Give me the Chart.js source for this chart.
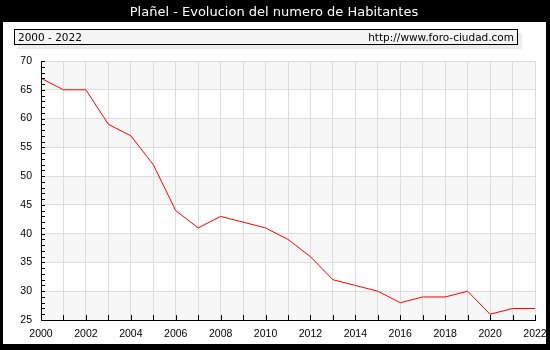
<!DOCTYPE html>
<html>
<head>
<meta charset="utf-8">
<script src="https://cdn.jsdelivr.net/npm/chart.js@4/dist/chart.umd.min.js"></script>
<style>
html,body{margin:0;padding:0;background:#000;}
#wrap{width:550px;height:350px;position:relative;}
canvas{display:block;}
</style>
</head>
<body>
<div id="wrap"><canvas id="c" width="550" height="350"></canvas></div>
<script>
const years = ['2000','2001','2002','2003','2004','2005','2006','2007','2008','2009','2010','2011','2012','2013','2014','2015','2016','2017','2018','2019','2020','2021','2022'];
const habitantes = [67,65,65,59,57,52,44,41,43,42,41,39,36,32,31,30,28,29,29,30,26,27,27];
const titleText = 'Plañel - Evolucion del numero de Habitantes';
const periodText = '2000 - 2022';
const urlText = 'http://www.foro-ciudad.com';

const framePlugin = {
  id: 'frame',
  beforeDraw(chart) {
    const ctx = chart.ctx;
    const W = chart.width, H = chart.height;
    ctx.save();
    ctx.fillStyle = '#000';
    ctx.fillRect(0, 0, W, H);
    ctx.fillStyle = '#fff';
    ctx.fillRect(3, 22, 543, 322);
    // title
    ctx.fillStyle = '#fff';
    ctx.font = '13px "DejaVu Sans"';
    ctx.textAlign = 'center';
    ctx.textBaseline = 'alphabetic';
    ctx.fillText(titleText, 274, 16);
    // legend box shadow
    ctx.fillStyle = '#ececec';
    ctx.fillRect(18, 33, 504, 16);
    ctx.fillStyle = '#f4f4f4';
    ctx.fillRect(14, 29, 504, 16);
    ctx.strokeStyle = '#000';
    ctx.lineWidth = 1;
    ctx.strokeRect(14.5, 29.5, 503, 15);
    ctx.fillStyle = '#000';
    ctx.font = '10.5px "DejaVu Sans"';
    ctx.textAlign = 'left';
    ctx.fillText(periodText, 18, 40.5);
    ctx.textAlign = 'right';
    ctx.fillText(urlText, 514, 40.5);
    // alternating bands
    const y = chart.scales.y, a = chart.chartArea;
    const ticks = y.ticks.map(t => t.value);
    for (let i = 0; i < ticks.length - 1; i++) {
      const v0 = ticks[i], v1 = ticks[i + 1];
      const idx = Math.round((v0 - y.min) / 5);
      if (idx % 2 === 0) {
        const p0 = y.getPixelForValue(v0), p1 = y.getPixelForValue(v1);
        ctx.fillStyle = '#f7f7f7';
        ctx.fillRect(a.left, p1, a.right - a.left, p0 - p1);
      }
    }
    ctx.restore();
  },
  afterDraw(chart) {
    const ctx = chart.ctx;
    const x = chart.scales.x, y = chart.scales.y, a = chart.chartArea;
    ctx.save();
    ctx.strokeStyle = '#000';
    ctx.lineWidth = 1;
    ctx.beginPath();
    for (let i = 0; i < years.length; i++) {
      const px = Math.round(x.getPixelForValue(i)) + 0.5;
      ctx.moveTo(px, a.bottom);
      ctx.lineTo(px, a.bottom - 5);
    }
    for (let v = Math.ceil(y.min); v <= y.max; v++) {
      const py = Math.round(y.getPixelForValue(v)) + 0.5;
      ctx.moveTo(a.left, py);
      ctx.lineTo(a.left + 4, py);
    }
    ctx.stroke();
    ctx.restore();
  }
};

new Chart(document.getElementById('c'), {
  type: 'line',
  data: {
    labels: years,
    datasets: [{
      data: habitantes,
      borderColor: '#ff0000',
      borderWidth: 1,
      pointRadius: 0,
      fill: false,
      tension: 0
    }]
  },
  options: {
    responsive: false,
    animation: false,
    devicePixelRatio: 1,
    layout: { padding: { top: 61, right: 15, left: 0, bottom: 0 } },
    plugins: { legend: { display: false }, tooltip: { enabled: false }, title: { display: false } },
    scales: {
      x: {
        type: 'category',
        offset: false,
        afterFit(s) { s.height = 30; s.paddingRight = 0; s.paddingLeft = 0; },
        grid: { color: '#dddddd', drawTicks: false },
        border: { display: true, color: '#000', width: 1 },
        ticks: {
          autoSkip: false, maxRotation: 0, padding: 8,
          color: '#000', font: { family: '"Liberation Sans"', size: 10.5 },
          callback(v, i) { return i % 2 === 0 ? years[i] : ''; }
        }
      },
      y: {
        min: 25, max: 70,
        afterFit(s) { s.width = 41; s.paddingTop = 0; s.paddingBottom = 0; },
        grid: { color: '#dddddd', drawTicks: false },
        border: { display: true, color: '#000', width: 1 },
        ticks: {
          stepSize: 5, padding: 9,
          color: '#000', font: { family: '"Liberation Sans"', size: 10.5 }
        }
      }
    }
  },
  plugins: [framePlugin]
});
</script>
</body>
</html>
